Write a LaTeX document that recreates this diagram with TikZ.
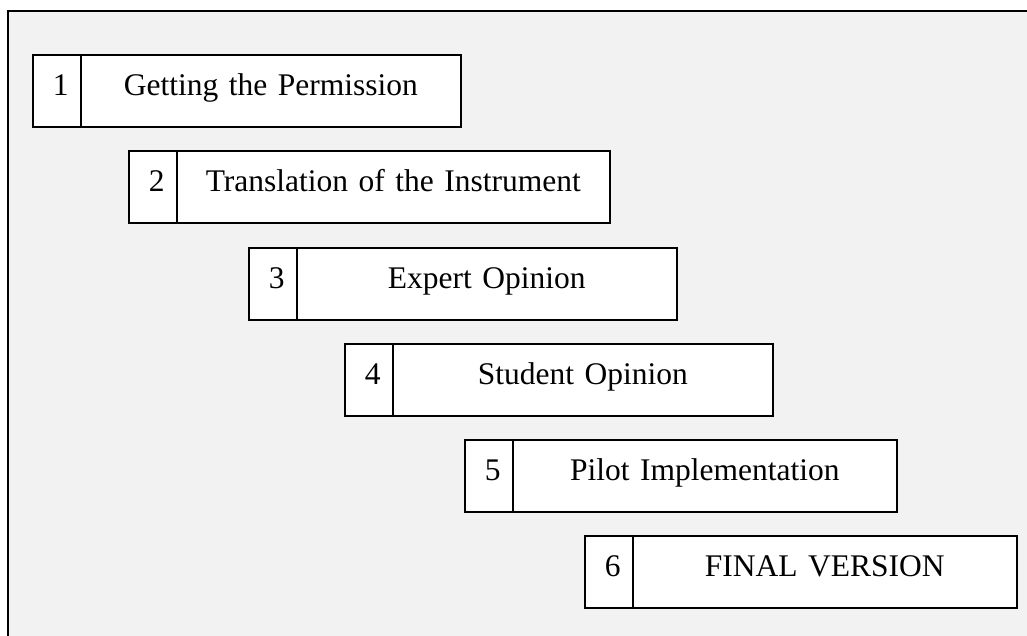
\documentclass[tikz,border=0pt]{standalone}
\usepackage{fontspec}
\setmainfont{Liberation Serif}
\definecolor{panelgray}{HTML}{F2F2F2}
\tikzset{
  cell/.style={draw=black, line width=1.6pt, fill=white, rectangle, inner sep=0pt,
    anchor=north west, minimum height=72pt, text height=22pt, text depth=12pt,
    font=\fontsize{31.5}{38}\selectfont},
  numcell/.style={cell, minimum width=48pt},
  stepcell/.style={cell, align=center},
  numtext/.style={font=\fontsize{31.5}{38}\selectfont, inner sep=0pt,
    text height=22pt, text depth=12pt}
}
\begin{document}
\begin{tikzpicture}[x=1pt, y=-1pt]
  \clip (0,0) rectangle (1027,636);
  \fill[white] (0,0) rectangle (1027,636);
  % grey panel behind the steps
  \draw[line width=2pt, fill=panelgray] (8,11) rectangle (1040,650);
  % step boxes: number cell and label cell
  \node[numcell] (n1) at (32,54) {};
  \node[stepcell, minimum width=380pt, text width=380pt] (s1) at (80,54) {Getting the Permission};
  \node[numcell] (n2) at (128,150) {};
  \node[stepcell, minimum width=433pt, text width=433pt] (s2) at (176,150) {Translation of the Instrument};
  \node[numcell] (n3) at (248,247) {};
  \node[stepcell, minimum width=380pt, text width=380pt] (s3) at (296,247) {Expert Opinion};
  \node[numcell] (n4) at (344,343) {};
  \node[stepcell, minimum width=380pt, text width=380pt] (s4) at (392,343) {Student Opinion};
  \node[numcell] (n5) at (464,439) {};
  \node[stepcell, minimum width=384pt, text width=384pt] (s5) at (512,439) {Pilot Implementation};
  \node[numcell] (n6) at (584,535) {};
  \node[stepcell, minimum width=384pt, text width=384pt] (s6) at (632,535) {FINAL VERSION};
  % step numbers, set a little right of the cell centres
  \foreach \k in {1,...,6}
    \node[numtext] (k\k) at ([xshift=4pt]n\k.center) {\k};
\end{tikzpicture}
\end{document}
